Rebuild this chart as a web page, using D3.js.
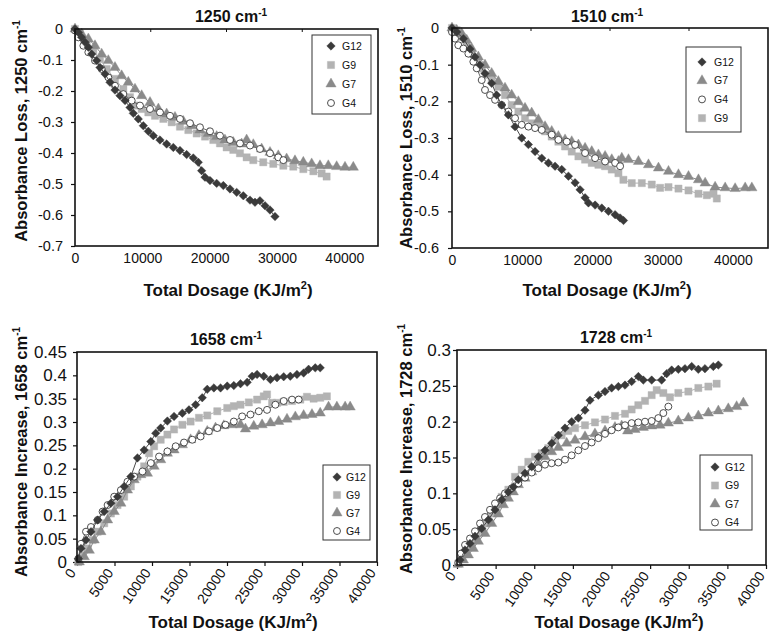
<!DOCTYPE html>
<html>
<head>
<meta charset="utf-8">
<script src="https://cdn.jsdelivr.net/npm/d3@7"></script>
<style>
  body { margin: 0; background: #fff; }
  svg { display: block; font-family: "Liberation Sans", Arial, Helvetica, sans-serif; }
</style>
</head>
<body>
<svg id="fig" width="769" height="635"></svg>
<script>
// ---------------- data ----------------
// Absorbance change vs. total UV dosage (KJ/m²) for four samples.

const xTicksTop = [0, 10000, 20000, 30000, 40000];
const xTicksBottom = [0, 5000, 10000, 15000, 20000, 25000, 30000, 35000, 40000];
const frameTicks = [10000, 20000, 30000];
const yTicks1250 = [0, -0.1, -0.2, -0.3, -0.4, -0.5, -0.6, -0.7];
const yTicks1510 = [0, -0.1, -0.2, -0.3, -0.4, -0.5, -0.6];
const yTicks1658 = [0, 0.05, 0.1, 0.15, 0.2, 0.25, 0.3, 0.35, 0.4, 0.45];
const yTicks1728 = [0, 0.05, 0.1, 0.15, 0.2, 0.25, 0.3];

const legend1250 = ["G12", "G9", "G7", "G4"];
const legend1510 = ["G12", "G7", "G4", "G9"];
const legend1658 = ["G12", "G9", "G7", "G4"];
const legend1728 = ["G12", "G9", "G7", "G4"];

// 1250 cm-1 band
const g12_1250 = [[0,0],[500,-0.011],[990,-0.027],[1490,-0.043],[1980,-0.059],[2480,-0.081],[3220,-0.102],[3710,-0.124],[4460,-0.145],[5200,-0.172],[5940,-0.197],[6680,-0.215],[7430,-0.231],[8170,-0.253],[8660,-0.272],[9400,-0.29],[10150,-0.312],[10890,-0.33],[11630,-0.344],[12620,-0.358],[13610,-0.371],[14600,-0.382],[15590,-0.392],[16580,-0.405],[17570,-0.416],[18310,-0.43],[18810,-0.457],[19310,-0.478],[20050,-0.489],[21040,-0.498],[22030,-0.505],[23020,-0.516],[24010,-0.527],[25000,-0.538],[25990,-0.552],[26730,-0.559],[27470,-0.554],[28220,-0.57],[28960,-0.584],[29700,-0.605]];
const g9_1250 = [[0,0],[740,-0.016],[1730,-0.043],[2720,-0.07],[3710,-0.097],[4700,-0.129],[5940,-0.161],[7180,-0.194],[8170,-0.22],[8910,-0.247],[9900,-0.258],[10890,-0.269],[11880,-0.28],[13120,-0.29],[14360,-0.301],[15590,-0.315],[16830,-0.326],[18070,-0.337],[19310,-0.347],[20540,-0.358],[21530,-0.369],[22520,-0.382],[23510,-0.39],[24500,-0.401],[25490,-0.414],[26480,-0.423],[27960,-0.43],[29450,-0.435],[30940,-0.441],[32420,-0.444],[33910,-0.452],[35400,-0.459],[36630,-0.466],[37370,-0.476]];
const g7_1250 = [[0,0],[990,-0.016],[1980,-0.032],[2970,-0.054],[3960,-0.081],[4950,-0.102],[5940,-0.124],[6930,-0.151],[7920,-0.172],[8910,-0.194],[9900,-0.215],[11140,-0.237],[12380,-0.258],[13610,-0.274],[14850,-0.285],[16090,-0.298],[17330,-0.312],[18560,-0.326],[19800,-0.337],[21040,-0.347],[22270,-0.358],[23510,-0.366],[24750,-0.371],[25490,-0.358],[26480,-0.373],[27720,-0.387],[28960,-0.398],[30190,-0.409],[31430,-0.419],[32670,-0.425],[33910,-0.43],[35150,-0.435],[36380,-0.441],[37620,-0.441],[38860,-0.444],[40100,-0.446],[41330,-0.446]];
const g4_1250 = [[0,-0.005],[500,-0.027],[1240,-0.054],[1980,-0.075],[2970,-0.102],[3960,-0.129],[4950,-0.156],[5940,-0.183],[7180,-0.21],[8420,-0.231],[9650,-0.247],[11140,-0.258],[12620,-0.269],[14110,-0.28],[15590,-0.29],[17080,-0.304],[18560,-0.317],[20050,-0.33],[21530,-0.344],[23020,-0.358],[24500,-0.369],[25990,-0.376],[27470,-0.387],[28960,-0.401],[30190,-0.414],[30940,-0.423]];

// 1510 cm-1 band
const g12_1510 = [[0,0],[670,-0.011],[1620,-0.029],[2560,-0.057],[3280,-0.079],[3990,-0.101],[4700,-0.124],[5650,-0.151],[6360,-0.183],[7080,-0.21],[8030,-0.237],[8980,-0.269],[9930,-0.3],[10880,-0.318],[11830,-0.337],[12780,-0.355],[13730,-0.368],[14680,-0.377],[15630,-0.386],[16580,-0.404],[17530,-0.422],[18240,-0.441],[18950,-0.463],[19430,-0.477],[20380,-0.483],[21330,-0.491],[22280,-0.5],[23230,-0.509],[23940,-0.518],[24420,-0.525]];
const g9_1510 = [[0,0],[670,-0.006],[1380,-0.024],[2090,-0.047],[2800,-0.07],[3520,-0.088],[4230,-0.111],[4940,-0.128],[5650,-0.142],[6600,-0.16],[7550,-0.183],[8500,-0.21],[9450,-0.228],[10400,-0.246],[11350,-0.26],[12300,-0.269],[13250,-0.282],[14200,-0.296],[15150,-0.31],[16100,-0.323],[17050,-0.337],[18000,-0.35],[18950,-0.359],[19900,-0.368],[20850,-0.373],[21800,-0.377],[22750,-0.386],[23700,-0.396],[24410,-0.414],[25600,-0.423],[27030,-0.423],[28450,-0.427],[29640,-0.436],[30830,-0.434],[32250,-0.438],[33680,-0.443],[35100,-0.452],[36290,-0.456],[37240,-0.452],[37710,-0.465]];
const g7_1510 = [[0,0],[670,-0.006],[1380,-0.015],[2090,-0.033],[2800,-0.056],[3750,-0.079],[4700,-0.101],[5650,-0.124],[6600,-0.146],[7550,-0.164],[8500,-0.183],[9450,-0.201],[10400,-0.219],[11350,-0.232],[12300,-0.25],[13250,-0.269],[14200,-0.282],[15150,-0.296],[16100,-0.305],[17050,-0.31],[18000,-0.319],[18950,-0.328],[19900,-0.337],[20850,-0.346],[21800,-0.35],[22750,-0.359],[23700,-0.364],[24180,-0.355],[25130,-0.359],[26550,-0.364],[27980,-0.373],[29400,-0.382],[30830,-0.391],[32250,-0.4],[33680,-0.405],[35100,-0.414],[36050,-0.423],[37470,-0.434],[38900,-0.436],[40320,-0.438],[41750,-0.436],[42700,-0.436]];
const g4_1510 = [[0,-0.011],[430,-0.029],[900,-0.047],[1620,-0.056],[2330,-0.07],[3040,-0.092],[3520,-0.11],[4230,-0.142],[4700,-0.169],[5420,-0.183],[6130,-0.196],[7080,-0.21],[8030,-0.228],[8980,-0.246],[9930,-0.264],[10880,-0.269],[11830,-0.273],[12780,-0.278],[14200,-0.291],[15150,-0.305],[16340,-0.31],[17530,-0.319],[18950,-0.341],[20380,-0.355],[21800,-0.364],[23230,-0.368],[23940,-0.377]];

// 1658 cm-1 band
const g12_1658 = [[180,0.007],[530,0.029],[1200,0.047],[1860,0.065],[2750,0.09],[3630,0.108],[4520,0.126],[5400,0.14],[6290,0.162],[7180,0.183],[8060,0.223],[8950,0.24],[9840,0.258],[10500,0.276],[11160,0.287],[12050,0.302],[12940,0.312],[14050,0.319],[14930,0.326],[15820,0.337],[16700,0.352],[17370,0.37],[18250,0.373],[19140,0.373],[20030,0.377],[20910,0.378],[21800,0.382],[22690,0.385],[23350,0.398],[24010,0.402],[24900,0.398],[25790,0.391],[26670,0.395],[27560,0.397],[28440,0.398],[29330,0.402],[30220,0.405],[30880,0.413],[31770,0.416],[32430,0.416]];
const g9_1658 = [[180,0],[750,0.014],[1420,0.029],[2080,0.047],[2750,0.065],[3630,0.083],[4520,0.104],[5400,0.122],[6290,0.14],[7180,0.162],[8060,0.183],[8950,0.205],[9610,0.233],[10280,0.248],[11160,0.262],[12050,0.273],[12940,0.284],[14050,0.294],[15150,0.301],[16260,0.309],[17370,0.314],[18700,0.323],[20030,0.33],[20910,0.334],[21800,0.337],[22910,0.342],[24010,0.348],[24900,0.355],[25340,0.359],[26010,0.341],[26670,0.341],[27560,0.343],[28670,0.345],[29770,0.348],[30660,0.354],[31550,0.35],[32430,0.352],[33320,0.355]];
const g7_1658 = [[310,0],[970,0.011],[1640,0.025],[2300,0.047],[3190,0.065],[4080,0.09],[4960,0.108],[5850,0.126],[6730,0.154],[7620,0.176],[8510,0.187],[9390,0.19],[10280,0.205],[11160,0.219],[12050,0.233],[12940,0.24],[14050,0.251],[15150,0.262],[16260,0.271],[17370,0.28],[18470,0.287],[19580,0.292],[20690,0.294],[21800,0.294],[22460,0.285],[23570,0.291],[24680,0.294],[25790,0.298],[26890,0.301],[28000,0.306],[29110,0.311],[30220,0.314],[31330,0.316],[32430,0.319],[33540,0.332],[34650,0.332],[35750,0.332],[36420,0.332]];
const g4_1658 = [[180,0.007],[530,0.039],[1200,0.065],[1860,0.075],[2750,0.09],[3410,0.108],[4080,0.122],[4960,0.14],[5850,0.154],[6730,0.172],[7620,0.183],[8730,0.194],[9840,0.212],[10940,0.226],[12050,0.237],[13160,0.248],[14270,0.256],[15370,0.262],[16480,0.269],[17590,0.28],[18700,0.287],[19800,0.294],[20910,0.301],[22020,0.312],[23130,0.316],[24240,0.323],[25340,0.326],[26450,0.337],[27560,0.345],[28670,0.348],[29550,0.348]];

// 1728 cm-1 band
const g12_1728 = [[390,0.007],[1040,0.021],[1680,0.03],[2330,0.04],[3190,0.051],[4060,0.063],[4920,0.077],[5790,0.091],[6650,0.102],[7290,0.109],[7940,0.119],[8800,0.128],[9670,0.137],[10530,0.151],[11390,0.16],[12260,0.17],[13120,0.181],[13980,0.191],[14850,0.2],[15710,0.205],[16570,0.216],[17220,0.23],[18300,0.237],[19160,0.242],[20020,0.247],[20890,0.249],[21750,0.251],[22610,0.256],[23480,0.263],[24120,0.258],[25200,0.258],[26490,0.258],[27140,0.267],[27790,0.272],[28650,0.273],[29510,0.274],[30380,0.277],[31240,0.273],[32100,0.274],[33180,0.277],[33830,0.279]];
const g9_1728 = [[170,0.002],[600,0.014],[1250,0.026],[1900,0.033],[2550,0.04],[3190,0.049],[3840,0.058],[4490,0.072],[5130,0.084],[5780,0.095],[6650,0.105],[7510,0.123],[8370,0.133],[9230,0.144],[10100,0.151],[10960,0.156],[11820,0.163],[12690,0.174],[13550,0.181],[14410,0.187],[15280,0.191],[16570,0.195],[17860,0.199],[19160,0.203],[20450,0.208],[21750,0.211],[22610,0.217],[23470,0.223],[24340,0.229],[25200,0.237],[25850,0.244],[26710,0.24],[27570,0.234],[28650,0.24],[29950,0.242],[31240,0.247],[32540,0.249],[33610,0.253]];
const g7_1728 = [[170,0.001],[820,0.007],[1470,0.014],[2110,0.023],[2760,0.033],[3620,0.044],[4490,0.058],[5350,0.071],[6000,0.084],[6650,0.093],[7290,0.102],[7940,0.112],[8800,0.121],[9670,0.13],[10530,0.141],[11390,0.151],[12250,0.158],[13120,0.164],[14200,0.17],[15280,0.174],[16570,0.179],[17860,0.183],[19160,0.187],[20450,0.192],[21320,0.194],[22090,0.187],[23040,0.189],[24120,0.192],[25200,0.194],[26280,0.195],[27360,0.198],[28650,0.201],[29950,0.205],[31240,0.208],[32540,0.212],[33830,0.215],[35120,0.218],[36200,0.221],[37070,0.226]];
const g4_1728 = [[170,0.003],[520,0.016],[1040,0.028],[1680,0.037],[2330,0.047],[2980,0.058],[3620,0.067],[4270,0.077],[4920,0.086],[5570,0.093],[6210,0.1],[7080,0.107],[7940,0.114],[8800,0.122],[9670,0.129],[10530,0.135],[11390,0.14],[12250,0.142],[13120,0.143],[13980,0.147],[14840,0.153],[15710,0.16],[16570,0.166],[17430,0.171],[18300,0.177],[19160,0.183],[20020,0.188],[20880,0.192],[21750,0.195],[22610,0.198],[23470,0.199],[24340,0.2],[25200,0.201],[26060,0.205],[26710,0.212],[27360,0.221]];

// ---------------- drawing ----------------
const svg = d3.select("#fig");
const FONT = '"Liberation Sans", Arial, Helvetica, sans-serif';

const style = {
  G12: { shape: "diamond",  fill: "#3a3a3a", stroke: "#3a3a3a", line: "#4a4a4a" },
  G9:  { shape: "square",   fill: "#b3b3b3", stroke: "#b3b3b3", line: "#b3b3b3" },
  G7:  { shape: "triangle", fill: "#8a8a8a", stroke: "#8a8a8a", line: "#8a8a8a" },
  G4:  { shape: "circle",   fill: "#ffffff", stroke: "#3a3a3a", line: "#6a6a6a" }
};
const drawOrder = ["G9", "G7", "G4", "G12"];

function symbolPath(shape) {
  if (shape === "diamond")  return d3.symbol(d3.symbolSquare, 36)();
  if (shape === "square")   return d3.symbol(d3.symbolSquare, 52)();
  if (shape === "triangle") return d3.symbol(d3.symbolTriangle, 46)();
  return d3.symbol(d3.symbolCircle, 38)();
}
function symbolTransform(shape, px, py) {
  return shape === "diamond" ? `translate(${px},${py}) rotate(45)` : `translate(${px},${py})`;
}

const fmtY = d => String(+d.toFixed(2));

function drawPanel(cfg) {
  const g = svg.append("g");
  const x = d3.scaleLinear().domain(cfg.xDomain).range([cfg.left, cfg.right]);
  const y = d3.scaleLinear().domain(cfg.yDomain).range([cfg.bottom, cfg.top]);

  // y axis
  const ya = g.append("g")
    .attr("transform", `translate(${cfg.left},0)`)
    .call(d3.axisLeft(y).tickValues(cfg.yTicks).tickSize(4).tickPadding(cfg.yPad).tickFormat(fmtY));
  ya.select(".domain").remove();
  ya.selectAll("line").attr("stroke", "#111").attr("stroke-width", 1.2);
  ya.selectAll("text").attr("font-family", FONT).attr("font-size", cfg.yFont).attr("fill", "#111");

  // x axis
  const xa = g.append("g")
    .attr("transform", `translate(0,${cfg.bottom})`)
    .call(d3.axisBottom(x).tickValues(cfg.xTicks).tickSize(cfg.rotate ? 4 : 0).tickPadding(7).tickFormat(d3.format("d")));
  xa.select(".domain").remove();
  xa.selectAll("line").attr("stroke", "#111").attr("stroke-width", 1.2);
  xa.selectAll("text").attr("font-family", FONT).attr("font-size", cfg.xFont).attr("fill", "#111");
  if (cfg.rotate) {
    xa.selectAll("text")
      .attr("text-anchor", "end")
      .attr("x", 0).attr("y", 0)
      .attr("dy", "0.35em")
      .attr("transform", "translate(-5,8) rotate(-55)");
  }

  // small ticks along the top edge of the frame
  if (cfg.frameTicks) {
    const xf = d3.scaleLinear().domain([0, 40000]).range([cfg.left, cfg.right]);
    g.append("g").selectAll("line").data(cfg.frameTicks).join("line")
      .attr("x1", d => xf(d)).attr("x2", d => xf(d))
      .attr("y1", cfg.top).attr("y2", cfg.top + 3)
      .attr("stroke", "#111").attr("stroke-width", 1);
  }

  // series
  const line = d3.line().x(d => x(d[0])).y(d => y(d[1]));
  drawOrder.forEach(name => {
    const pts = cfg.series[name];
    const st = style[name];
    g.append("path").datum(pts)
      .attr("d", line).attr("fill", "none")
      .attr("stroke", st.line).attr("stroke-width", 1);
    g.append("g").selectAll("path").data(pts).join("path")
      .attr("d", symbolPath(st.shape))
      .attr("transform", d => symbolTransform(st.shape, x(d[0]), y(d[1])))
      .attr("fill", st.fill)
      .attr("stroke", st.stroke)
      .attr("stroke-width", st.shape === "circle" ? 0.9 : 0.4);
  });

  // plot frame
  g.append("rect")
    .attr("x", cfg.left).attr("y", cfg.top)
    .attr("width", cfg.right - cfg.left).attr("height", cfg.bottom - cfg.top)
    .attr("fill", "none").attr("stroke", "#111").attr("stroke-width", 1.6);

  // legend
  const L = cfg.legend;
  const lg = g.append("g");
  lg.append("rect")
    .attr("x", L.x).attr("y", L.y).attr("width", L.w).attr("height", L.h)
    .attr("fill", "#fff").attr("stroke", "#333").attr("stroke-width", 1);
  cfg.legendOrder.forEach((name, i) => {
    const st = style[name];
    const cy = L.y + L.first + i * L.step;
    lg.append("path")
      .attr("d", symbolPath(st.shape))
      .attr("transform", symbolTransform(st.shape, L.x + L.mx, cy))
      .attr("fill", st.fill).attr("stroke", st.stroke)
      .attr("stroke-width", st.shape === "circle" ? 0.9 : 0.4);
    lg.append("text")
      .attr("x", L.x + L.tx).attr("y", cy).attr("dy", "0.35em")
      .attr("font-family", FONT).attr("font-size", 10.5).attr("fill", "#111")
      .text(name);
  });

  // title
  const t = g.append("text")
    .attr("x", cfg.titleX).attr("y", cfg.titleY)
    .attr("text-anchor", "middle")
    .attr("font-family", FONT).attr("font-weight", "bold").attr("font-size", 16).attr("fill", "#111");
  t.append("tspan").text(cfg.band + " cm");
  t.append("tspan").attr("dy", -6).attr("font-size", 10).text("-1");

  // x axis title
  const xt = g.append("text")
    .attr("x", cfg.xTitleX).attr("y", cfg.xTitleY)
    .attr("text-anchor", "middle")
    .attr("font-family", FONT).attr("font-weight", "bold").attr("font-size", 17).attr("fill", "#111");
  xt.append("tspan").text("Total Dosage (KJ/m");
  xt.append("tspan").attr("dy", -7).attr("font-size", 11).text("2");
  xt.append("tspan").attr("dy", 7).text(")");

  // y axis title
  const yt = g.append("text")
    .attr("transform", `translate(${cfg.yTitleX},${cfg.yTitleY}) rotate(-90)`)
    .attr("text-anchor", "middle")
    .attr("font-family", FONT).attr("font-weight", "bold").attr("font-size", 16.5).attr("fill", "#111");
  yt.append("tspan").text(cfg.yLabel + ", " + cfg.band + " cm");
  yt.append("tspan").attr("dy", -7).attr("font-size", 10).text("-1");
}

drawPanel({
  band: "1250", yLabel: "Absorbance Loss",
  left: 75, right: 378, top: 29, bottom: 246,
  xDomain: [0, 45000], yDomain: [-0.7, 0],
  xTicks: xTicksTop, yTicks: yTicks1250, frameTicks: frameTicks,
  xFont: 14, yFont: 14.5, yPad: 8, rotate: false,
  series: { G12: g12_1250, G9: g9_1250, G7: g7_1250, G4: g4_1250 },
  legendOrder: legend1250,
  legend: { x: 312, y: 35, w: 59, h: 79, first: 11, step: 19, mx: 19, tx: 30 },
  titleX: 231, titleY: 22, xTitleX: 228, xTitleY: 296, yTitleX: 27, yTitleY: 131
});

drawPanel({
  band: "1510", yLabel: "Absorbance Loss",
  left: 452, right: 768, top: 28, bottom: 248,
  xDomain: [0, 45000], yDomain: [-0.6, 0],
  xTicks: xTicksTop, yTicks: yTicks1510, frameTicks: frameTicks,
  xFont: 14, yFont: 14.5, yPad: 9, rotate: false,
  series: { G12: g12_1510, G9: g9_1510, G7: g7_1510, G4: g4_1510 },
  legendOrder: legend1510,
  legend: { x: 686, y: 47, w: 55, h: 85, first: 15, step: 18.7, mx: 16, tx: 28 },
  titleX: 607, titleY: 22, xTitleX: 607, xTitleY: 296, yTitleX: 412, yTitleY: 138
});

drawPanel({
  band: "1658", yLabel: "Absorbance Increase",
  left: 77, right: 377, top: 352, bottom: 562,
  xDomain: [0, 40000], yDomain: [0, 0.45],
  xTicks: xTicksBottom, yTicks: yTicks1658, frameTicks: null,
  xFont: 14, yFont: 17, yPad: 6, rotate: true,
  series: { G12: g12_1658, G9: g9_1658, G7: g7_1658, G4: g4_1658 },
  legendOrder: legend1658,
  legend: { x: 323, y: 465, w: 47, h: 75, first: 12, step: 18, mx: 14, tx: 23 },
  titleX: 226, titleY: 345, xTitleX: 233, xTitleY: 628, yTitleX: 27, yTitleY: 452
});

drawPanel({
  band: "1728", yLabel: "Absorbance Increase",
  left: 457, right: 766, top: 350, bottom: 565,
  xDomain: [0, 40000], yDomain: [0, 0.3],
  xTicks: xTicksBottom, yTicks: yTicks1728, frameTicks: null,
  xFont: 14, yFont: 17, yPad: 2, rotate: true,
  series: { G12: g12_1728, G9: g9_1728, G7: g7_1728, G4: g4_1728 },
  legendOrder: legend1728,
  legend: { x: 700, y: 455, w: 52, h: 75, first: 12, step: 18.5, mx: 15, tx: 25 },
  titleX: 616, titleY: 343, xTitleX: 619, xTitleY: 628, yTitleX: 412, yTitleY: 449
});
</script>
</body>
</html>
